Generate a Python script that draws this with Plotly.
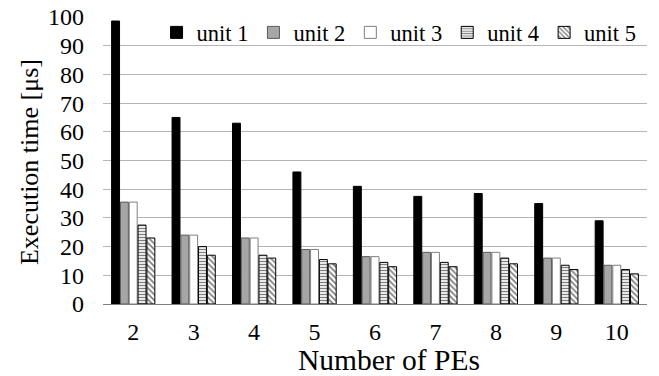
import plotly.graph_objects as go

categories = ["2", "3", "4", "5", "6", "7", "8", "9", "10"]
unit1 = [98.6, 65.0, 63.0, 46.0, 41.0, 37.5, 38.5, 35.0, 29.0]
unit2 = [35.5, 24.0, 23.0, 19.0, 16.5, 18.0, 18.0, 16.0, 13.5]
unit3 = [35.5, 24.0, 23.0, 19.0, 16.5, 18.0, 18.0, 16.0, 13.5]
unit4 = [27.5, 20.0, 17.0, 15.5, 14.5, 14.5, 16.0, 13.5, 12.0]
unit5 = [23.0, 17.0, 16.0, 14.0, 13.0, 13.0, 14.0, 12.0, 10.5]
y_ticks = [0, 10, 20, 30, 40, 50, 60, 70, 80, 90, 100]

font = "Liberation Serif"
FS = 24
LS = 22.5
TS = 29.5

fig = go.Figure()
fig.add_bar(name="unit 1", x=categories, y=unit1,
            marker=dict(color="black", line=dict(color="black", width=1)))
fig.add_bar(name="unit 2", x=categories, y=unit2,
            marker=dict(color="#a6a6a6", line=dict(color="#595959", width=1)))
fig.add_bar(name="unit 3", x=categories, y=unit3,
            marker=dict(color="white", line=dict(color="#7f7f7f", width=1)))
fig.add_bar(name="unit 4", x=categories, y=unit4,
            marker=dict(color="white", line=dict(color="black", width=1),
                        pattern=dict(shape="-", fgcolor="black", bgcolor="white",
                                     size=3, solidity=0.45)))
fig.add_bar(name="unit 5", x=categories, y=unit5,
            marker=dict(color="white", line=dict(color="black", width=1),
                        pattern=dict(shape="\\", fgcolor="black", bgcolor="white",
                                     size=4, solidity=0.45)))

fig.update_layout(
    width=643, height=366,
    margin=dict(l=95, r=4, t=9, b=70, autoexpand=False),
    paper_bgcolor="white", plot_bgcolor="white",
    font=dict(family=font, size=FS, color="black"),
    barmode="group", bargap=0.27, bargroupgap=0.1,
    legend=dict(orientation="h", x=0.99, xanchor="right", y=1.02, yanchor="top",
                bgcolor="rgba(255,255,255,0)", font=dict(family=font, size=LS),
                itemwidth=30, traceorder="normal", tracegroupgap=0),
    xaxis=dict(automargin=False, showgrid=False,
               showline=True, linecolor="#7f7f7f", linewidth=1, ticks="",
               ticklabelstandoff=6, ticklabeloverflow="allow",
               tickfont=dict(family=font, size=FS)),
    yaxis=dict(automargin=False, range=[0, 100],
               tickvals=y_ticks, showgrid=True, gridcolor="#b4b4b4", gridwidth=1,
               zeroline=False, showline=False, ticks="", ticklabelstandoff=18,
               ticklabeloverflow="allow",
               tickfont=dict(family=font, size=FS)),
    annotations=[
        dict(text="Number of PEs", xref="paper", yref="paper", x=0.526, y=-0.195,
             xanchor="center", yanchor="middle", showarrow=False,
             font=dict(family=font, size=TS)),
        dict(text="Execution time [μs]", xref="paper", yref="paper", x=-0.134, y=0.495,
             xanchor="center", yanchor="middle", textangle=-90, showarrow=False,
             font=dict(family=font, size=26)),
    ],
)

fig.write_html("out.html")
